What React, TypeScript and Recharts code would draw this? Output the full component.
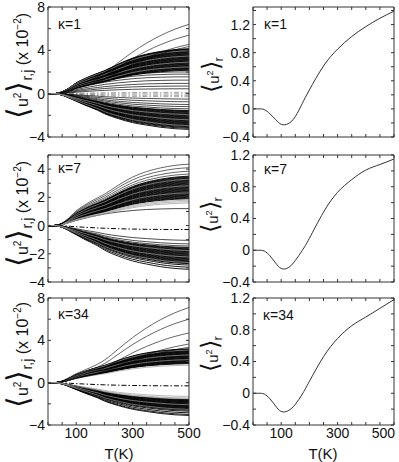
import React from 'react';
import { LineChart, Line, XAxis, YAxis } from 'recharts';

const TEMPS = [0, 20, 40, 60, 80, 100, 125, 150, 175, 200, 250, 300, 350, 400, 450, 500];

// Curve shapes (fraction of the 500 K value)
const SHAPE_BAND = [0, 0, 0.02, 0.07, 0.15, 0.24, 0.32, 0.39, 0.45, 0.51, 0.66, 0.79, 0.88, 0.94, 0.98, 1];
const SHAPE_OUTLIER = [0, 0, 0.01, 0.04, 0.08, 0.12, 0.16, 0.2, 0.245, 0.3, 0.45, 0.6, 0.73, 0.84, 0.93, 1];
const SHAPE_SAT = [0, 0, 0.03, 0.1, 0.2, 0.3, 0.41, 0.51, 0.6, 0.68, 0.8, 0.89, 0.95, 0.98, 1, 1];
const SHAPE_LOW = [0, 0, 0.02, 0.07, 0.14, 0.21, 0.3, 0.38, 0.46, 0.56, 0.7, 0.81, 0.88, 0.94, 0.98, 1];

// Right column: <u^2>_r at TEMPS
const RIGHT_K1 = [0, 0, -0.01, -0.07, -0.15, -0.22, -0.21, -0.11, 0.08, 0.27, 0.61, 0.85, 1.03, 1.17, 1.29, 1.39];
const RIGHT_K7 = [0, 0, -0.01, -0.07, -0.16, -0.23, -0.22, -0.13, 0.0, 0.15, 0.48, 0.73, 0.89, 1.01, 1.08, 1.15];
const RIGHT_K34 = [0, 0, -0.01, -0.07, -0.16, -0.23, -0.22, -0.14, -0.01, 0.15, 0.46, 0.69, 0.85, 0.96, 1.07, 1.18];

// Left column: values at 500 K of each <u^2>_{r,j} curve (x 10^-2)
const K1_OUTLIERS = [6.4, 5.4, 4.55, 4.35];
const K1_BAND = [4.15, 4.1, 4.05, 4.0, 3.94, 3.88, 3.83, 3.77, 3.72, 3.66, 3.6, 3.55, 3.5, 3.44, 3.38, 3.33, 3.27, 3.22, 3.16, 3.1, 3.05, 3.0, 2.94, 2.88, 2.83, 2.77, 2.72, 2.66, 2.6, 2.55, 2.5, 2.44, 2.38, 2.33, 2.27, 2.22, 2.16];
const K1_BAND_GRAY = [3.97, 3.47, 2.91, 2.47];
const K1_INNER = [2.0, 1.8, 1.55, 1.25, 0.95, 0.7, 0.45];
const K1_NEAR_ZERO = [0.12, -0.02, -0.15, -0.28];
const K1_LOW_SPARSE = [-0.5, -0.75, -1.0, -1.2, -1.4];
const K1_LOW = [-1.55, -1.6, -1.66, -1.72, -1.78, -1.84, -1.9, -1.96, -2.02, -2.08, -2.14, -2.2, -2.26, -2.32, -2.38, -2.44, -2.5, -2.56, -2.62, -2.68, -2.74, -2.8, -2.86, -2.92, -2.98, -3.05, -3.12, -3.2, -3.3];
const K1_LOW_GRAY = [-1.93, -2.41, -2.95];

const K7_TOP = [4.35, 4.1, 3.85, 3.65];
const K7_BAND = [3.5, 3.45, 3.4, 3.35, 3.3, 3.25, 3.2, 3.15, 3.1, 3.05, 3.0, 2.95, 2.9, 2.85, 2.8, 2.75, 2.7, 2.65, 2.6, 2.55, 2.5, 2.45, 2.4, 2.35, 2.3, 2.25, 2.2, 2.15, 2.1, 2.05, 2.0, 1.95, 1.9];
const K7_BAND_GRAY = [3.28, 2.82, 2.32, 1.8, 1.7, 1.6];
const K7_INNER = [1.2];
const K7_DASH = [-0.28];
const K7_LOW_SPARSE = [-1.05, -1.3, -1.45];
const K7_LOW = [-1.55, -1.6, -1.65, -1.7, -1.75, -1.8, -1.85, -1.9, -1.95, -2.0, -2.05, -2.1, -2.15, -2.2, -2.25, -2.3, -2.35, -2.4, -2.45, -2.5, -2.55, -2.6, -2.65, -2.7, -2.8, -2.95, -3.1];
const K7_LOW_GRAY = [-1.77, -2.22, -2.62];

const K34_OUTLIERS = [7.1, 6.0, 4.7, 3.65, 3.35];
const K34_BAND = [3.2, 3.15, 3.1, 3.05, 3.0, 2.95, 2.9, 2.85, 2.8, 2.75, 2.7, 2.65, 2.6, 2.55, 2.5, 2.45, 2.4, 2.35, 2.3, 2.25, 2.2, 2.15, 2.1, 2.05, 2.0, 1.95, 1.9, 1.85, 1.8];
const K34_BAND_GRAY = [3.08, 2.62, 2.18, 1.65];
const K34_DASH = [-0.3];
const K34_LOW_SPARSE = [-1.3, -1.45];
const K34_LOW = [-1.6, -1.65, -1.7, -1.75, -1.8, -1.85, -1.9, -1.95, -2.0, -2.05, -2.1, -2.15, -2.2, -2.25, -2.3, -2.35, -2.4, -2.45, -2.5, -2.55, -2.6, -2.7, -2.85, -3.0, -3.1];
const K34_LOW_GRAY = [-1.52, -2.08, -2.52];

const X_MINOR = [0, 50, 100, 150, 200, 250, 300, 350, 400, 450, 500];
const X_LABELS = [100, 300, 500];

type Group = { finals: number[]; shape: number[]; color: string; dash?: string; width?: number };
type Series = { key: string; color: string; dash?: string; width: number; curve: 'monotone' | 'natural' };

function buildFan(groups: Group[]) {
  const rows: Record<string, number>[] = TEMPS.map((t) => ({ T: t }));
  const series: Series[] = [];
  let n = 0;
  groups.forEach((g) =>
    g.finals.forEach((f) => {
      const key = 'c' + n++;
      g.shape.forEach((s, i) => {
        rows[i][key] = Math.round(f * s * 1000) / 1000;
      });
      series.push({ key, color: g.color, dash: g.dash, width: g.width ?? 0.9, curve: 'monotone' });
    })
  );
  return { rows, series };
}

const BLACK = '#000';
const GRAY = '#9a9a9a';
const DASHDOT = '5 2 1.5 2';

const FAN_K1 = buildFan([
  { finals: K1_NEAR_ZERO, shape: SHAPE_SAT, color: '#8a8a8a', dash: DASHDOT, width: 0.8 },
  { finals: K1_INNER, shape: SHAPE_SAT, color: BLACK, width: 0.7 },
  { finals: K1_BAND, shape: SHAPE_BAND, color: BLACK },
  { finals: K1_BAND_GRAY, shape: SHAPE_BAND, color: GRAY, width: 0.7 },
  { finals: K1_OUTLIERS, shape: SHAPE_OUTLIER, color: BLACK, width: 0.6 },
  { finals: K1_LOW_SPARSE, shape: SHAPE_LOW, color: BLACK, width: 0.7 },
  { finals: K1_LOW, shape: SHAPE_LOW, color: BLACK },
  { finals: K1_LOW_GRAY, shape: SHAPE_LOW, color: GRAY, width: 0.7 },
]);

const FAN_K7 = buildFan([
  { finals: K7_INNER, shape: SHAPE_SAT, color: BLACK, width: 0.7 },
  { finals: K7_BAND, shape: SHAPE_BAND, color: BLACK },
  { finals: K7_BAND_GRAY, shape: SHAPE_BAND, color: GRAY, width: 0.7 },
  { finals: K7_TOP, shape: SHAPE_BAND, color: BLACK, width: 0.6 },
  { finals: K7_DASH, shape: SHAPE_SAT, color: BLACK, dash: DASHDOT, width: 1 },
  { finals: K7_LOW_SPARSE, shape: SHAPE_LOW, color: BLACK, width: 0.7 },
  { finals: K7_LOW, shape: SHAPE_LOW, color: BLACK },
  { finals: K7_LOW_GRAY, shape: SHAPE_LOW, color: GRAY, width: 0.7 },
]);

const FAN_K34 = buildFan([
  { finals: K34_BAND, shape: SHAPE_BAND, color: BLACK },
  { finals: K34_BAND_GRAY, shape: SHAPE_BAND, color: GRAY, width: 0.7 },
  { finals: K34_OUTLIERS, shape: SHAPE_OUTLIER, color: BLACK, width: 0.6 },
  { finals: K34_DASH, shape: SHAPE_SAT, color: BLACK, dash: DASHDOT, width: 1 },
  { finals: K34_LOW_SPARSE, shape: SHAPE_LOW, color: GRAY, width: 0.7 },
  { finals: K34_LOW, shape: SHAPE_LOW, color: BLACK },
  { finals: K34_LOW_GRAY, shape: SHAPE_LOW, color: GRAY, width: 0.7 },
]);

function single(values: number[]) {
  return {
    rows: TEMPS.map((t, i) => ({ T: t, c0: values[i] })),
    series: [{ key: 'c0', color: '#333', width: 1, curve: 'natural' }] as Series[],
  };
}

const FONT = '"Liberation Sans", Arial, sans-serif';
const TICK_STYLE = { fontSize: 14, fill: '#111', fontFamily: FONT };
const FRAME = '#333';
const blank = () => '';
const fmt = (v: number) => String(v).replace('-', '\u2212');

function XLabelTick(props: any) {
  const { x, y, payload, edgeEnd } = props;
  const isEnd = edgeEnd && payload.value === 500;
  return (
    <text x={isEnd ? x + 1 : x} y={y} dy="0.8em" textAnchor={isEnd ? 'end' : 'middle'}
      fontSize={14} fill="#111" fontFamily={FONT}>
      {payload.value}
    </text>
  );
}

type PanelProps = {
  x: number;
  y: number;
  height: number;
  marginTop: number;
  marginBottom: number;
  yDomain: [number, number];
  yTicks: number[];
  yMinor: number[];
  data: { rows: Record<string, number>[]; series: Series[] };
  showX: boolean;
  edgeEnd?: boolean;
  extraRight?: number;
};

const PLOT_W = 141;
const AXIS_W = 48;

function Panel(p: PanelProps) {
  const width = AXIS_W + PLOT_W + (p.extraRight ?? 6);
  return (
    <div style={{ position: 'absolute', left: p.x, top: p.y }}>
      <LineChart
        width={width}
        height={p.height}
        data={p.data.rows}
        margin={{ top: p.marginTop, right: width - AXIS_W - PLOT_W, bottom: p.marginBottom, left: 0 }}
      >
        <XAxis xAxisId="xb" dataKey="T" type="number" domain={[0, 500]} allowDataOverflow orientation="bottom" mirror
          ticks={X_MINOR} interval={0} tickSize={3} tickFormatter={blank} stroke={FRAME} tick={TICK_STYLE} />
        <XAxis xAxisId="xt" dataKey="T" type="number" domain={[0, 500]} allowDataOverflow orientation="top" mirror
          ticks={X_MINOR} interval={0} tickSize={3} tickFormatter={blank} stroke={FRAME} tick={TICK_STYLE} />
        {p.showX && (
          <XAxis xAxisId="xl" dataKey="T" type="number" domain={[0, 500]} allowDataOverflow orientation="bottom" height={30}
            ticks={X_LABELS} interval={0} tickSize={0} tickMargin={2} tickLine={false} axisLine={false}
            tick={<XLabelTick edgeEnd={p.edgeEnd} />} />
        )}
        <YAxis yAxisId="yl" type="number" domain={p.yDomain} allowDataOverflow orientation="left" width={AXIS_W}
          ticks={p.yTicks} tickSize={0} tickMargin={3} tickLine={false} stroke={FRAME} tick={TICK_STYLE}
          tickFormatter={fmt} interval={0} />
        <YAxis yAxisId="ym" type="number" domain={p.yDomain} allowDataOverflow orientation="left" mirror
          ticks={p.yMinor} tickSize={3} tickFormatter={blank} axisLine={false} stroke={FRAME} tick={TICK_STYLE} interval={0} />
        <YAxis yAxisId="yr" type="number" domain={p.yDomain} allowDataOverflow orientation="right" mirror
          ticks={p.yMinor} tickSize={3} tickFormatter={blank} stroke={FRAME} tick={TICK_STYLE} interval={0} />
        {p.data.series.map((s) => (
          <Line key={s.key} xAxisId="xb" yAxisId="yl" dataKey={s.key} type={s.curve} dot={false}
            stroke={s.color} strokeWidth={s.width} strokeDasharray={s.dash} isAnimationActive={false} />
        ))}
      </LineChart>
    </div>
  );
}

const bracket: React.CSSProperties = { fontFamily: '"DejaVu Sans", sans-serif', fontWeight: 200 };

function YTitle({ cx, cy, children, size }: { cx: number; cy: number; children: React.ReactNode; size: number }) {
  return (
    <div style={{
      position: 'absolute', left: cx, top: cy, transform: 'translate(-50%, -50%) rotate(-90deg)',
      whiteSpace: 'nowrap', fontSize: size, lineHeight: 1.3, fontFamily: FONT, color: '#111',
    }}>{children}</div>
  );
}

function LeftTitle({ cx, cy }: { cx: number; cy: number }) {
  return (
    <YTitle cx={cx} cy={cy} size={16}>
      <span style={{ ...bracket, fontSize: 30 }}>{'\u27E8'}</span>u<sup style={{ fontSize: 10 }}>2</sup>
      <span style={{ ...bracket, fontSize: 30 }}>{'\u27E9'}</span>
      <sub style={{ fontSize: 14 }}>r,j</sub> (x 10<sup style={{ fontSize: 10 }}>{'\u22122'}</sup>)
    </YTitle>
  );
}

function RightTitle({ cx, cy }: { cx: number; cy: number }) {
  return (
    <YTitle cx={cx} cy={cy} size={15}>
      <span style={{ ...bracket, fontSize: 24 }}>{'\u27E8'}</span>u<sup style={{ fontSize: 9 }}>2</sup>
      <span style={{ ...bracket, fontSize: 24 }}>{'\u27E9'}</span>
      <sub style={{ fontSize: 13 }}>r</sub>
    </YTitle>
  );
}

function Kappa({ x, y, text }: { x: number; y: number; text: string }) {
  return (
    <div style={{ position: 'absolute', left: x, top: y, fontSize: 14, fontFamily: FONT, color: '#111', lineHeight: 1 }}>
      {text}
    </div>
  );
}

function XTitle({ cx }: { cx: number }) {
  return (
    <div style={{ position: 'absolute', left: cx, top: 446, transform: 'translateX(-50%)', fontSize: 15, fontFamily: FONT, color: '#111', lineHeight: 1 }}>
      T(K)
    </div>
  );
}

const LEFT_MAJOR_8 = [-4, 0, 4, 8];
const LEFT_MINOR_8 = [-4, -2, 0, 2, 4, 6, 8];
const LEFT_MAJOR_5 = [-4, -2, 0, 2, 4];
const LEFT_MINOR_5 = [-4, -3, -2, -1, 0, 1, 2, 3, 4, 5];
const RIGHT_MAJOR = [-0.4, 0, 0.4, 0.8, 1.2];
const RIGHT_MINOR_14 = [-0.4, -0.2, 0, 0.2, 0.4, 0.6, 0.8, 1.0, 1.2, 1.4];
const RIGHT_MINOR_12 = [-0.4, -0.2, 0, 0.2, 0.4, 0.6, 0.8, 1.0, 1.2];

export default function App() {
  return (
    <div style={{ position: 'absolute', left: 0, top: 0, width: 399, height: 462, background: '#fff', overflow: 'hidden' }}>
      <Panel x={0} y={0} height={145} marginTop={7} marginBottom={8} yDomain={[-4, 8]} yTicks={LEFT_MAJOR_8} yMinor={LEFT_MINOR_8} data={FAN_K1} showX={false} />
      <Panel x={205} y={0} height={145} marginTop={7} marginBottom={8} yDomain={[-0.4, 1.45]} yTicks={RIGHT_MAJOR} yMinor={RIGHT_MINOR_14} data={single(RIGHT_K1)} showX={false} />
      <Panel x={0} y={145} height={145} marginTop={10} marginBottom={8} yDomain={[-4, 5]} yTicks={LEFT_MAJOR_5} yMinor={LEFT_MINOR_5} data={FAN_K7} showX={false} />
      <Panel x={205} y={145} height={145} marginTop={10} marginBottom={8} yDomain={[-0.4, 1.2]} yTicks={RIGHT_MAJOR} yMinor={RIGHT_MINOR_12} data={single(RIGHT_K7)} showX={false} />
      <Panel x={0} y={288} height={167} marginTop={10} marginBottom={0} yDomain={[-4, 8]} yTicks={LEFT_MAJOR_8} yMinor={LEFT_MINOR_8} data={FAN_K34} showX={true} extraRight={16} />
      <Panel x={205} y={288} height={167} marginTop={10} marginBottom={0} yDomain={[-0.4, 1.2]} yTicks={RIGHT_MAJOR} yMinor={RIGHT_MINOR_12} data={single(RIGHT_K34)} showX={true} edgeEnd />

      <LeftTitle cx={17} cy={66} />
      <LeftTitle cx={17} cy={214} />
      <LeftTitle cx={17} cy={355} />
      <RightTitle cx={212} cy={75} />
      <RightTitle cx={211} cy={215} />
      <RightTitle cx={211} cy={354} />

      <Kappa x={58} y={17} text={'\u03BA=1'} />
      <Kappa x={264} y={17} text={'\u03BA=1'} />
      <Kappa x={58} y={161} text={'\u03BA=7'} />
      <Kappa x={264} y={162} text={'\u03BA=7'} />
      <Kappa x={58} y={307} text={'\u03BA=34'} />
      <Kappa x={263} y={308} text={'\u03BA=34'} />

      <XTitle cx={119} />
      <XTitle cx={323} />
    </div>
  );
}
